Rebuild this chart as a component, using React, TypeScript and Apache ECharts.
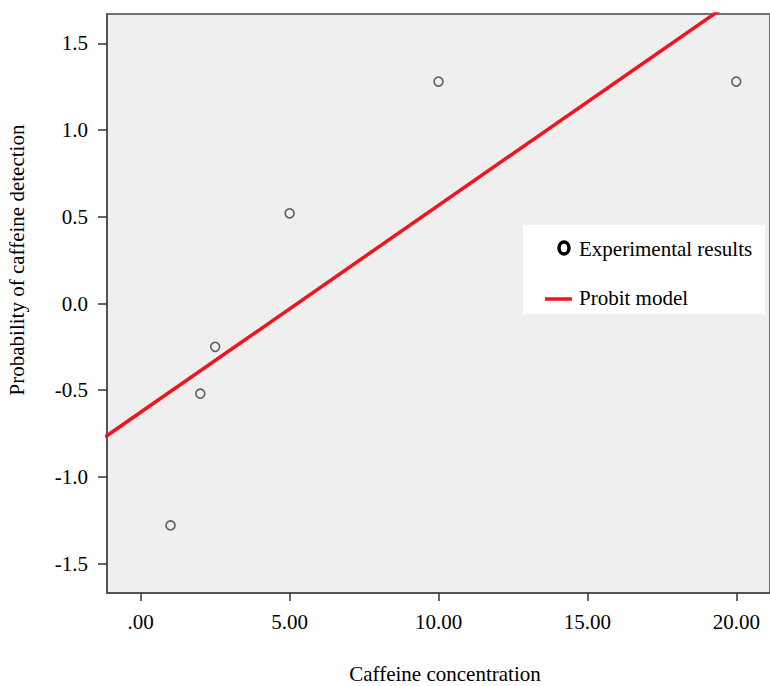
import React, { useEffect, useRef } from "react";
import * as echarts from "echarts";

const FONT = "Liberation Serif, Times New Roman, serif";

// Experimental results (caffeine concentration, probit value)
const expX = [1, 2, 2.5, 5, 10, 20];
const expY = [-1.28, -0.52, -0.25, 0.52, 1.28, 1.28];

// Probit model line endpoints
const probitX = [-1.2, 21];
const probitY = [-0.77, 1.878];

const xTicks = [0, 5, 10, 15, 20];
const yTicks = [-1.5, -1.0, -0.5, 0.0, 0.5, 1.0, 1.5];

export default function App() {
  const ref = useRef<HTMLDivElement>(null);
  useEffect(() => {
    if (!ref.current) return;
    const chart = echarts.init(ref.current, null, { renderer: "svg" });
    const textStyle = { fontFamily: FONT, fontSize: 21, color: "#000" };
    chart.setOption({
      animation: false,
      backgroundColor: "#fff",
      grid: {
        left: 107,
        top: 14,
        width: 668,
        height: 579,
        show: true,
        backgroundColor: "#efefef",
        borderColor: "#4a4a4a",
        borderWidth: 1.5,
      },
      xAxis: {
        type: "value",
        min: -1.133,
        max: 21.133,
        axisLine: { show: true, onZero: false, lineStyle: { color: "#4a4a4a", width: 1.5 } },
        axisTick: {
          show: true,
          length: 8,
          customValues: xTicks,
          lineStyle: { color: "#333", width: 1.5 },
        },
        axisLabel: {
          customValues: xTicks,
          margin: 18,
          ...textStyle,
          formatter: (v: number) => (v === 0 ? ".00" : v.toFixed(2)),
        },
        splitLine: { show: false },
      },
      yAxis: {
        type: "value",
        min: -1.67,
        max: 1.67,
        axisLine: { show: true, onZero: false, lineStyle: { color: "#4a4a4a", width: 1.5 } },
        axisTick: {
          show: true,
          length: 9,
          customValues: yTicks,
          lineStyle: { color: "#333", width: 1.5 },
        },
        axisLabel: {
          customValues: yTicks,
          margin: 19,
          ...textStyle,
          formatter: (v: number) => v.toFixed(1),
        },
        splitLine: { show: false },
      },
      series: [
        {
          name: "Probit model",
          type: "line",
          data: probitX.map((x, i) => [x, probitY[i]]),
          showSymbol: false,
          symbol: "none",
          clip: true,
          lineStyle: { color: "#f0141e", width: 3.5 },
        },
        {
          name: "Experimental results",
          type: "scatter",
          data: expX.map((x, i) => [x, expY[i]]),
          symbol: "circle",
          symbolSize: 9,
          itemStyle: {
            color: "rgba(0,0,0,0)",
            borderColor: "#3a3a3a",
            borderWidth: 1.6,
          },
        },
      ],
      graphic: [
        {
          type: "rect",
          shape: { x: 523, y: 225, width: 242, height: 89 },
          style: { fill: "#ffffff" },
          z: 10,
        },
        {
          type: "ellipse",
          shape: { cx: 564, cy: 248, rx: 5, ry: 6 },
          style: { fill: "none", stroke: "#000", lineWidth: 3.5 },
          z: 11,
        },
        {
          type: "text",
          x: 579,
          y: 249,
          style: {
            text: "Experimental results",
            fontFamily: FONT,
            fontSize: 21,
            fill: "#000",
            textAlign: "left",
            textVerticalAlign: "middle",
          },
          z: 11,
        },
        {
          type: "line",
          shape: { x1: 545, y1: 299, x2: 572, y2: 299 },
          style: { stroke: "#f0141e", lineWidth: 3.5 },
          z: 11,
        },
        {
          type: "text",
          x: 579,
          y: 298,
          style: {
            text: "Probit model",
            fontFamily: FONT,
            fontSize: 21,
            fill: "#000",
            textAlign: "left",
            textVerticalAlign: "middle",
          },
          z: 11,
        },
        {
          type: "text",
          x: 445,
          y: 674,
          style: {
            text: "Caffeine concentration",
            fontFamily: FONT,
            fontSize: 21,
            fill: "#000",
            textAlign: "center",
            textVerticalAlign: "middle",
          },
        },
        {
          type: "text",
          x: 17,
          y: 260,
          rotation: Math.PI / 2,
          style: {
            text: "Probability of caffeine detection",
            fontFamily: FONT,
            fontSize: 21,
            fill: "#000",
            textAlign: "center",
            textVerticalAlign: "middle",
          },
        },
      ],
    });
    return () => chart.dispose();
  }, []);
  return (
    <div
      ref={ref}
      style={{ position: "fixed", left: 0, top: 0, width: 770, height: 686 }}
    />
  );
}
